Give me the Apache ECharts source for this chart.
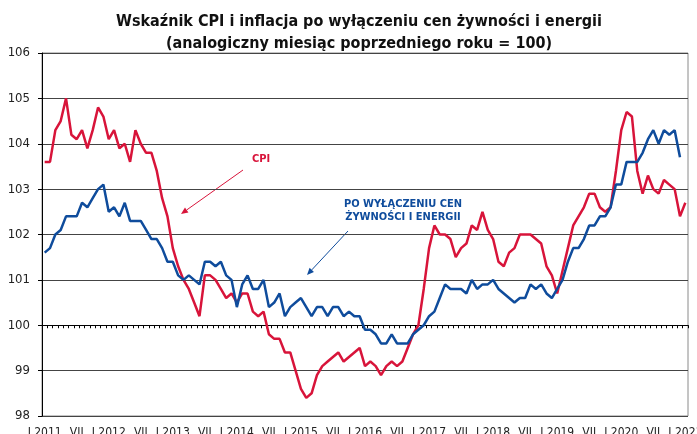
<!DOCTYPE html>
<html>
<head>
<meta charset="utf-8">
<script src="https://cdn.jsdelivr.net/npm/echarts@6/dist/echarts.min.js"></script>
<style>
  html, body { margin: 0; padding: 0; background: #fff; }
  #chart { width: 697px; height: 434px; }
</style>
</head>
<body>
<div id="chart"></div>
<script>
// monthly data, Jan 2011 .. Jan 2021 (same month previous year = 100)
const years = [2011, 2012, 2013, 2014, 2015, 2016, 2017, 2018, 2019, 2020, 2021];
const romanMonths = ['I', 'II', 'III', 'IV', 'V', 'VI', 'VII', 'VIII', 'IX', 'X', 'XI', 'XII'];

const cpi = [
  103.6, 103.6, 104.3, 104.5, 105.0, 104.2, 104.1, 104.3, 103.9, 104.3, 104.8, 104.6,
  104.1, 104.3, 103.9, 104.0, 103.6, 104.3, 104.0, 103.8, 103.8, 103.4, 102.8, 102.4,
  101.7, 101.3, 101.0, 100.8, 100.5, 100.2, 101.1, 101.1, 101.0, 100.8, 100.6, 100.7,
  100.5, 100.7, 100.7, 100.3, 100.2, 100.3, 99.8, 99.7, 99.7, 99.4, 99.4, 99.0,
  98.6, 98.4, 98.5, 98.9, 99.1, 99.2, 99.3, 99.4, 99.2, 99.3, 99.4, 99.5,
  99.1, 99.2, 99.1, 98.9, 99.1, 99.2, 99.1, 99.2, 99.5, 99.8, 100.0, 100.8,
  101.7, 102.2, 102.0, 102.0, 101.9, 101.5, 101.7, 101.8, 102.2, 102.1, 102.5, 102.1,
  101.9, 101.4, 101.3, 101.6, 101.7, 102.0, 102.0, 102.0, 101.9, 101.8, 101.3, 101.1,
  100.7, 101.2, 101.7, 102.2, 102.4, 102.6, 102.9, 102.9, 102.6, 102.5, 102.6, 103.4,
  104.3, 104.7, 104.6, 103.4, 102.9, 103.3, 103.0, 102.9, 103.2, 103.1, 103.0, 102.4,
  102.7
];

const core = [
  101.6, 101.7, 102.0, 102.1, 102.4, 102.4, 102.4, 102.7, 102.6, 102.8, 103.0, 103.1,
  102.5, 102.6, 102.4, 102.7, 102.3, 102.3, 102.3, 102.1, 101.9, 101.9, 101.7, 101.4,
  101.4, 101.1, 101.0, 101.1, 101.0, 100.9, 101.4, 101.4, 101.3, 101.4, 101.1, 101.0,
  100.4, 100.9, 101.1, 100.8, 100.8, 101.0, 100.4, 100.5, 100.7, 100.2, 100.4, 100.5,
  100.6, 100.4, 100.2, 100.4, 100.4, 100.2, 100.4, 100.4, 100.2, 100.3, 100.2, 100.2,
  99.9, 99.9, 99.8, 99.6, 99.6, 99.8, 99.6, 99.6, 99.6, 99.8, 99.9, 100.0,
  100.2, 100.3, 100.6, 100.9, 100.8, 100.8, 100.8, 100.7, 101.0, 100.8, 100.9, 100.9,
  101.0, 100.8, 100.7, 100.6, 100.5, 100.6, 100.6, 100.9, 100.8, 100.9, 100.7, 100.6,
  100.8, 101.0, 101.4, 101.7, 101.7, 101.9, 102.2, 102.2, 102.4, 102.4, 102.6, 103.1,
  103.1, 103.6, 103.6, 103.6, 103.8, 104.1, 104.3, 104.0, 104.3, 104.2, 104.3, 103.7
];

const yMin = 98;
const yMax = 106;
const baseLine = 100;

const categories = [];
years.forEach(y => {
  romanMonths.forEach((m, i) => {
    if (categories.length < cpi.length) categories.push(i === 0 ? m + ' ' + y : m);
  });
});

const font = '"Liberation Sans Narrow", "Arial Narrow", "DejaVu Sans Condensed", sans-serif';
const red = '#D8143A';
const blue = '#0F4C9C';

const gridTop = 53;
const gridBottom = 18;
const gridHeight = 434 - gridTop - gridBottom;

function arrow(x1, y1, x2, y2, color) {
  const a = Math.atan2(y2 - y1, x2 - x1);
  const len = 7, w = 3;
  const bx = x2 - len * Math.cos(a), by = y2 - len * Math.sin(a);
  return [
    { type: 'line', shape: { x1: x1, y1: y1, x2: bx, y2: by }, style: { stroke: color, lineWidth: 1 } },
    {
      type: 'polygon',
      shape: { points: [[x2, y2], [bx + w * Math.sin(a), by - w * Math.cos(a)], [bx - w * Math.sin(a), by + w * Math.cos(a)]] },
      style: { fill: color }
    }
  ];
}

const chart = echarts.init(document.getElementById('chart'));

chart.setOption({
  animation: false,
  title: {
    text: 'Wskaźnik CPI i inflacja po wyłączeniu cen żywności i energii\n(analogiczny miesiąc poprzedniego roku = 100)',
    left: 354,
    top: 6,
    textAlign: 'center',
    textStyle: { fontFamily: font, fontSize: 16, fontWeight: 'bold', color: '#111', lineHeight: 22 }
  },
  grid: {
    left: 42, right: 9, top: gridTop, bottom: gridBottom,
    outerBoundsMode: 'none',
    containLabel: false,
    show: true, borderColor: '#8a8a8a', borderWidth: 1
  },
  xAxis: [
    {
      type: 'category',
      data: categories,
      boundaryGap: true,
      axisLine: { show: false },
      axisTick: { show: false },
      axisLabel: {
        interval: i => i % 6 === 0,
        fontFamily: font, fontSize: 12, color: '#222', margin: 11
      }
    },
    {
      type: 'category',
      data: categories,
      boundaryGap: true,
      position: 'bottom',
      offset: -(baseLine - yMin) / (yMax - yMin) * gridHeight,
      axisLine: { show: true, lineStyle: { color: '#000', width: 1 } },
      axisTick: { show: true, interval: 0, length: 3, lineStyle: { color: '#000' } },
      axisLabel: { show: false }
    }
  ],
  yAxis: {
    type: 'value',
    min: yMin, max: yMax, interval: 1,
    axisLine: { show: true, lineStyle: { color: '#000' } },
    axisTick: { show: true, length: 4, lineStyle: { color: '#000' } },
    axisLabel: { fontFamily: font, fontSize: 13, color: '#222', margin: 12 },
    splitLine: { lineStyle: { color: '#444', width: 1 } }
  },
  series: [
    {
      name: 'CPI', type: 'line', data: cpi, showSymbol: false,
      lineStyle: { color: red, width: 2.5 }, itemStyle: { color: red }, z: 3
    },
    {
      name: 'Po wyłączeniu cen żywności i energii', type: 'line', data: core, showSymbol: false,
      lineStyle: { color: blue, width: 2.5 }, itemStyle: { color: blue }, z: 4
    }
  ],
  graphic: [
    {
      type: 'text', left: 252, top: 154,
      style: { text: 'CPI', fill: red, font: 'bold 11px ' + font }
    },
    ...arrow(243, 170, 181, 214, red),
    {
      type: 'text', x: 403, y: 198,
      style: {
        text: 'PO WYŁĄCZENIU CEN\nŻYWNOŚCI I ENERGII', fill: blue,
        font: 'bold 11px ' + font, align: 'center', lineHeight: 13
      }
    },
    ...arrow(348, 231, 307, 275, blue)
  ]
});
</script>
</body>
</html>
